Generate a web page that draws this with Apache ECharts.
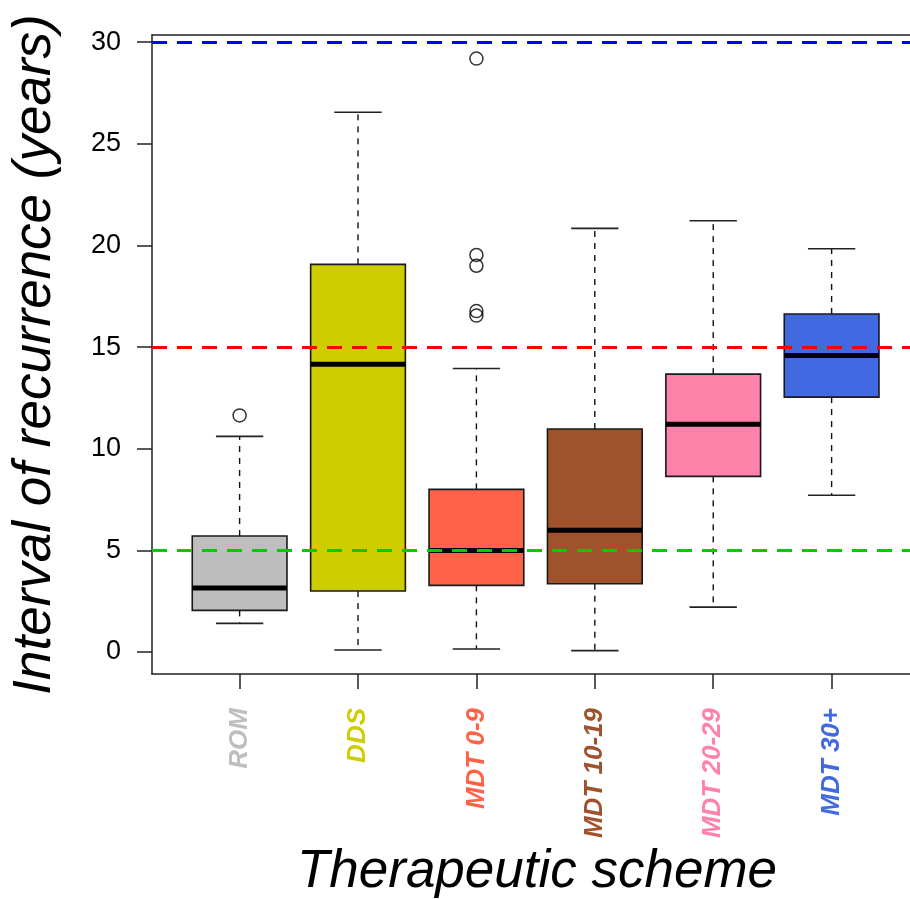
<!DOCTYPE html>
<html><head><meta charset="utf-8">
<script src="https://cdn.jsdelivr.net/npm/echarts@6/dist/echarts.min.js"></script>
<style>html,body{margin:0;padding:0;background:#fff}#c{width:910px;height:899px}</style>
</head><body><div id="c"></div>
<script>
const categories = ['ROM', 'DDS', 'MDT 0-9', 'MDT 10-19', 'MDT 20-29', 'MDT 30+'];
const boxColors = ['#BEBEBE', '#CDCD00', '#FF6347', '#A0522D', '#FF82AB', '#4169E1'];
const lowWhisker = [1.41, 0.10, 0.15, 0.07, 2.21, 7.71];
const q1 = [2.05, 3.00, 3.28, 3.36, 8.64, 12.54];
const median = [3.15, 14.15, 4.99, 5.99, 11.20, 14.58];
const q3 = [5.71, 19.07, 8.00, 10.97, 13.67, 16.63];
const highWhisker = [10.61, 26.55, 13.95, 20.84, 21.21, 19.84];
const outlierGroup = [1, 3, 3, 3, 3, 3];
const outlierValue = [11.64, 29.19, 19.53, 19.00, 16.77, 16.55];
const yTicks = [0, 5, 10, 15, 20, 25, 30];
const refLines = [30, 15, 5];
const refColors = ['#0000FF', '#FF0000', '#00CD00'];

const FONT = 'Liberation Sans, Arial, Helvetica, sans-serif';
const xPositions = categories.map((c, i) => i + 1);
const boxData = categories.map((c, i) => [i + 1, lowWhisker[i], q1[i], median[i], q3[i], highWhisker[i], i]);
const outlierData = outlierValue.map((v, i) => [outlierGroup[i], v]);

const rich = {};
categories.forEach((c, i) => {
  rich['c' + i] = { color: boxColors[i], fontSize: 26, fontWeight: 'bold', fontStyle: 'italic', fontFamily: FONT };
});

const chart = echarts.init(document.getElementById('c'), null, { renderer: 'canvas' });
chart.setOption({
  animation: false,
  backgroundColor: '#fff',
  grid: { left: 152, right: 0, top: 35, bottom: 225, containLabel: false, outerBoundsMode: 'none' },
  xAxis: [{
    type: 'value', min: 0.26, max: 6.662, position: 'bottom',
    axisLine: { show: true, onZero: false, lineStyle: { color: '#222', width: 1.5 } },
    axisTick: { show: true, length: 15, customValues: xPositions, lineStyle: { color: '#222', width: 1.5 } },
    axisLabel: {
      customValues: xPositions, rotate: 90, margin: 34,
      formatter: v => '{c' + (Math.round(v) - 1) + '|' + categories[Math.round(v) - 1] + '}',
      rich: rich
    },
    splitLine: { show: false },
    name: 'Therapeutic scheme', nameLocation: 'middle', nameGap: 170,
    nameTextStyle: { fontSize: 53, fontStyle: 'italic', fontFamily: FONT, color: '#000', padding: [0, 0, 0, 12] }
  }, {
    type: 'value', min: 0.26, max: 6.662, position: 'top',
    axisLine: { show: true, onZero: false, lineStyle: { color: '#222', width: 1.5 } },
    axisTick: { show: false }, axisLabel: { show: false }, splitLine: { show: false }
  }],
  yAxis: {
    type: 'value', min: -1.08, max: 30.35,
    axisLine: { show: true, onZero: false, lineStyle: { color: '#222', width: 1.5 } },
    axisTick: { show: true, length: 15, customValues: yTicks, lineStyle: { color: '#222', width: 1.5 } },
    axisLabel: { customValues: yTicks, margin: 31, fontSize: 27, color: '#000', fontFamily: FONT },
    splitLine: { show: false },
    name: 'Interval of recurrence (years)', nameLocation: 'middle', nameGap: 90, nameRotate: 90,
    nameTextStyle: { fontSize: 53, fontStyle: 'italic', fontFamily: FONT, color: '#000' }
  },
  series: [{
    type: 'custom',
    z: 2,
    data: boxData,
    encode: { x: 0, y: [1, 2, 3, 4, 5] },
    renderItem: function (params, api) {
      const x = api.value(0);
      const idx = api.value(6);
      const lo = api.coord([x, api.value(1)]);
      const b1 = api.coord([x, api.value(2)]);
      const md = api.coord([x, api.value(3)]);
      const b3 = api.coord([x, api.value(4)]);
      const hi = api.coord([x, api.value(5)]);
      const halfBox = api.size([0.4, 0])[0];
      const halfCap = api.size([0.2, 0])[0];
      const cx = lo[0];
      const dash = { stroke: '#111', lineWidth: 1.4, lineDash: [6, 6] };
      const solid = { stroke: '#222', lineWidth: 1.6 };
      return {
        type: 'group',
        children: [
          { type: 'line', shape: { x1: cx, y1: b3[1], x2: cx, y2: hi[1] }, style: dash },
          { type: 'line', shape: { x1: cx, y1: b1[1], x2: cx, y2: lo[1] }, style: dash },
          { type: 'line', shape: { x1: cx - halfCap, y1: hi[1], x2: cx + halfCap, y2: hi[1] }, style: solid },
          { type: 'line', shape: { x1: cx - halfCap, y1: lo[1], x2: cx + halfCap, y2: lo[1] }, style: solid },
          { type: 'rect', shape: { x: cx - halfBox, y: b3[1], width: 2 * halfBox, height: b1[1] - b3[1] },
            style: { fill: boxColors[idx], stroke: '#1a1a1a', lineWidth: 1.6 } },
          { type: 'line', shape: { x1: cx - halfBox, y1: md[1], x2: cx + halfBox, y2: md[1] },
            style: { stroke: '#000', lineWidth: 5 } }
        ]
      };
    }
  }, {
    type: 'scatter',
    z: 3,
    data: outlierData,
    symbol: 'circle',
    symbolSize: 13,
    itemStyle: { color: 'rgba(0,0,0,0)', borderColor: '#000', borderWidth: 1.5 },
    markLine: {
      silent: true,
      symbol: ['none', 'none'],
      label: { show: false },
      lineStyle: { type: [15, 10], width: 3 },
      data: refLines.map((v, i) => ({ yAxis: v, lineStyle: { color: refColors[i], type: [15, 10], width: 3 } }))
    }
  }]
});
</script>
</body></html>
